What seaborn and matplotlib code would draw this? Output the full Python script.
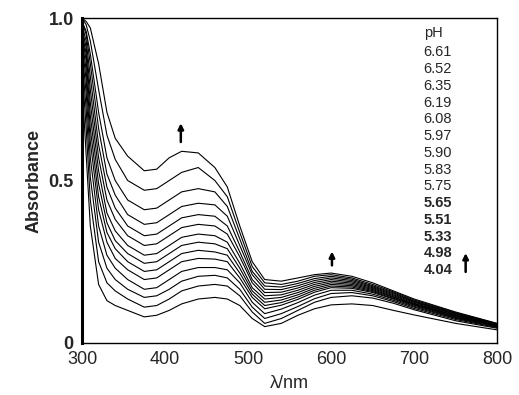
import numpy as np
import pandas as pd
import matplotlib
matplotlib.use("Agg")
import matplotlib.pyplot as plt
import seaborn as sns

wavelengths = [300, 305, 310, 320, 330, 340, 355, 375, 390, 405, 420, 440, 460, 475,
               490, 505, 520, 540, 560, 580, 600, 625, 650, 675, 700, 750, 800]

ph_labels = ["6.61", "6.52", "6.35", "6.19", "6.08", "5.97", "5.90", "5.83", "5.75",
             "5.65", "5.51", "5.33", "4.98", "4.04"]

abs_661 = [1.00, 0.99, 0.97, 0.86, 0.71, 0.63, 0.575, 0.53, 0.535, 0.57, 0.59, 0.585, 0.54, 0.48,
           0.36, 0.25, 0.195, 0.19, 0.20, 0.21, 0.215, 0.205, 0.185, 0.16, 0.135, 0.095, 0.06]
abs_652 = [1.00, 0.98, 0.93, 0.78, 0.64, 0.565, 0.50, 0.47, 0.475, 0.50, 0.525, 0.54, 0.50, 0.45,
           0.34, 0.235, 0.185, 0.18, 0.19, 0.205, 0.21, 0.20, 0.18, 0.157, 0.132, 0.093, 0.059]
abs_635 = [0.99, 0.96, 0.89, 0.71, 0.57, 0.50, 0.44, 0.41, 0.415, 0.44, 0.465, 0.475, 0.465, 0.42,
           0.32, 0.22, 0.175, 0.172, 0.183, 0.198, 0.205, 0.196, 0.176, 0.154, 0.129, 0.091, 0.058]
abs_619 = [0.99, 0.95, 0.86, 0.66, 0.52, 0.455, 0.395, 0.365, 0.37, 0.395, 0.42, 0.43, 0.425, 0.39,
           0.30, 0.21, 0.165, 0.164, 0.176, 0.192, 0.20, 0.192, 0.173, 0.151, 0.127, 0.089, 0.057]
abs_608 = [0.98, 0.93, 0.82, 0.61, 0.48, 0.415, 0.36, 0.33, 0.335, 0.36, 0.385, 0.395, 0.39, 0.36,
           0.28, 0.195, 0.155, 0.156, 0.169, 0.186, 0.195, 0.188, 0.17, 0.148, 0.125, 0.087, 0.056]
abs_597 = [0.97, 0.91, 0.78, 0.57, 0.44, 0.38, 0.33, 0.30, 0.305, 0.33, 0.355, 0.365, 0.36, 0.335,
           0.265, 0.185, 0.145, 0.148, 0.162, 0.18, 0.19, 0.184, 0.167, 0.145, 0.122, 0.085, 0.055]
abs_590 = [0.96, 0.89, 0.74, 0.53, 0.40, 0.345, 0.30, 0.27, 0.275, 0.30, 0.325, 0.335, 0.33, 0.31,
           0.245, 0.17, 0.135, 0.14, 0.155, 0.174, 0.185, 0.18, 0.164, 0.142, 0.12, 0.083, 0.054]
abs_583 = [0.95, 0.87, 0.70, 0.49, 0.37, 0.315, 0.275, 0.245, 0.25, 0.275, 0.30, 0.31, 0.305, 0.29,
           0.23, 0.16, 0.125, 0.132, 0.148, 0.168, 0.18, 0.176, 0.161, 0.14, 0.118, 0.081, 0.053]
abs_575 = [0.94, 0.84, 0.66, 0.45, 0.34, 0.29, 0.25, 0.22, 0.225, 0.25, 0.275, 0.285, 0.28, 0.27,
           0.215, 0.15, 0.115, 0.124, 0.141, 0.162, 0.175, 0.172, 0.158, 0.137, 0.116, 0.079, 0.052]
abs_565 = [0.92, 0.81, 0.62, 0.41, 0.31, 0.26, 0.225, 0.195, 0.20, 0.225, 0.25, 0.26, 0.258, 0.25,
           0.20, 0.14, 0.105, 0.116, 0.134, 0.156, 0.17, 0.168, 0.155, 0.135, 0.113, 0.077, 0.051]
abs_551 = [0.90, 0.77, 0.57, 0.36, 0.27, 0.23, 0.195, 0.165, 0.17, 0.195, 0.22, 0.232, 0.232, 0.225,
           0.185, 0.125, 0.09, 0.104, 0.124, 0.147, 0.162, 0.162, 0.15, 0.131, 0.11, 0.075, 0.049]
abs_533 = [0.88, 0.72, 0.51, 0.31, 0.23, 0.195, 0.165, 0.14, 0.145, 0.165, 0.19, 0.205, 0.208, 0.20,
           0.165, 0.11, 0.075, 0.09, 0.112, 0.136, 0.152, 0.155, 0.145, 0.127, 0.106, 0.072, 0.047]
abs_498 = [0.85, 0.66, 0.44, 0.25, 0.185, 0.16, 0.135, 0.11, 0.115, 0.135, 0.16, 0.175, 0.18, 0.175,
           0.145, 0.095, 0.06, 0.075, 0.10, 0.125, 0.14, 0.145, 0.138, 0.122, 0.102, 0.068, 0.045]
abs_404 = [0.80, 0.58, 0.36, 0.18, 0.13, 0.115, 0.10, 0.08, 0.085, 0.10, 0.12, 0.135, 0.14, 0.135,
           0.115, 0.075, 0.05, 0.06, 0.085, 0.105, 0.117, 0.12, 0.115, 0.10, 0.086, 0.06, 0.04]

spectra = [abs_661, abs_652, abs_635, abs_619, abs_608, abs_597, abs_590, abs_583, abs_575,
           abs_565, abs_551, abs_533, abs_498, abs_404]

# long form table for seaborn
rows = []
for ph, vals in zip(ph_labels, spectra):
    for wl, a in zip(wavelengths, vals):
        rows.append({"wl": wl, "A": a, "pH": ph})
df = pd.DataFrame(rows)

sns.set_style("white")
plt.rcParams['font.family'] = ['Liberation Sans', 'DejaVu Sans']

fig = plt.figure(figsize=(5.19, 3.95), dpi=100)
ax = fig.add_axes([0.158, 0.132, 0.800, 0.822])

sns.lineplot(data=df, x="wl", y="A", hue="pH", hue_order=ph_labels,
             palette=["black"] * len(ph_labels), linewidth=0.8, legend=False, ax=ax)

ax.set_xlim(300, 800)
ax.set_ylim(0, 1.0)
ax.set_xticks([300, 400, 500, 600, 700, 800])
ax.set_yticks([0, 0.5, 1.0])
ax.set_yticklabels(["0", "0.5", "1.0"])
ax.tick_params(direction="in", length=4, width=1.2, labelsize=13, pad=6)
for lab in ax.get_yticklabels():
    lab.set_fontweight("bold")

for side in ["top", "right", "bottom"]:
    ax.spines[side].set_color("black")
    ax.spines[side].set_linewidth(1.0)
ax.spines["left"].set_color("black")
ax.spines["left"].set_linewidth(2.2)

ax.set_xlabel("λ/nm", fontsize=13, labelpad=5)
ax.set_ylabel("Absorbance", fontsize=13, fontweight="bold", labelpad=4)

# pH list drawn as text in the upper right corner
ax.text(0.823, 0.954, "pH", transform=ax.transAxes, fontsize=10.5, va="center")
for i, ph in enumerate(ph_labels):
    bold = "bold" if i >= 9 else "normal"
    ax.text(0.823, 0.895 - i * 0.0516, ph, transform=ax.transAxes, fontsize=10.5,
            fontweight=bold, va="center")

# arrows showing the change with rising pH
arrow = dict(arrowstyle="-|>", color="black", lw=1.8, mutation_scale=8)
ax.annotate("", xy=(419, 0.685), xytext=(419, 0.61), arrowprops=arrow)
ax.annotate("", xy=(601, 0.29), xytext=(601, 0.23), arrowprops=arrow)
ax.annotate("", xy=(762, 0.285), xytext=(762, 0.21), arrowprops=arrow)

fig.savefig("out.png", dpi=100)
